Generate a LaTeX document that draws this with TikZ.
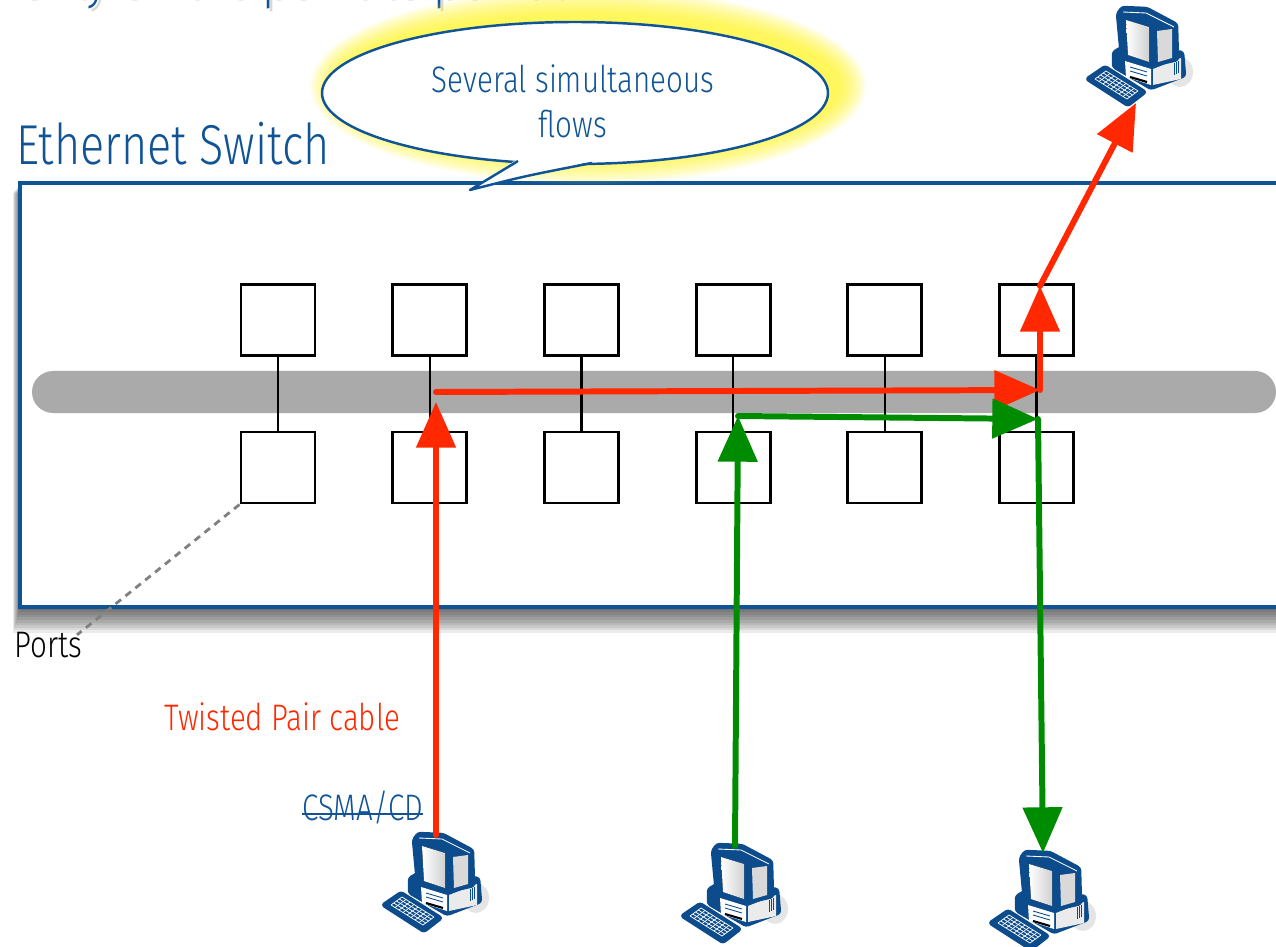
\documentclass[tikz,border=0pt]{standalone}
\usepackage{fontspec}
\setmainfont{Fira Sans Light}[FakeStretch=0.8]
\usetikzlibrary{arrows.meta}

\definecolor{ethblue}{RGB}{16,84,150}
\definecolor{pcblue}{RGB}{12,76,140}
\definecolor{flowred}{RGB}{255,40,0}
\definecolor{flowgreen}{RGB}{0,140,0}
\definecolor{busgray}{RGB}{170,170,170}

\tikzset{
  titlefont/.style={font=\fontsize{32}{38}\selectfont, inner sep=0pt},
  lbl/.style={font=\fontsize{21}{25.5}\selectfont, inner sep=0pt},
  portbox/.style={draw, fill=white, line width=1.7pt, minimum width=1.48cm,
    minimum height=1.42cm, inner sep=0pt},
  link/.style={line width=1.3pt},
  flow/.style={line width=3.4pt, line cap=round, -{Triangle[length=26pt,width=22pt]}},
  redflow/.style={flow, flowred},
  greenflow/.style={flow, flowgreen},
  portsline/.style={black!50, line width=1.6pt, dash pattern=on 4pt off 3.2pt},
  pcbody/.style={draw=pcblue, fill=pcblue, line width=1.4pt, line join=round,
    rounded corners=1.5pt},
  % desktop computer, origin at the top left of the icon
  pc/.pic={
    \fill[black!10] (110,72) ellipse (13 and 15);
    % system unit
    \filldraw[pcbody] (43,52) -- (55,45) -- (113,52) -- (115,76) -- (81,89) -- (43,67) -- cycle;
    \fill[white] (55,61) -- (81,69) -- (81,85) -- (56,77) -- cycle;
    \fill[black!8] (83,69) -- (111,58) -- (111,79) -- (83,85) -- cycle;
    \foreach \k in {0,4}
      \draw[pcblue, line width=0.5pt] (60,{67+\k}) -- (77,{72+\k});
    \draw[black, line width=1.2pt] (60,77) -- (77,82);
    \foreach \k in {0,2,4}
      \draw[pcblue, line width=0.4pt] ({104+\k},{63-\k*0.4}) -- ({104+\k},{75-\k*0.4});
    % monitor
    \filldraw[pcbody] (47,14) -- (52,7) -- (77,8) -- (107,24) -- (108,60) -- (82,66) -- (51,57) -- cycle;
    \fill[left color=white, right color=black!18] (56,20) -- (79,27) -- (79,62) -- (58,55) -- cycle;
    \fill[black!15] (87,31) -- (102,29) -- (102,58) -- (88,62) -- cycle;
    \draw[white, line width=0.5pt] (53,12) -- (76,13) -- (104,27);
    % keyboard
    \filldraw[pcbody] (16,79) -- (35,66) -- (76,92) -- (58,106) -- cycle;
    \foreach \t in {0,0.25,0.5,0.75,1}
      \draw[white, line width=0.4pt] ({25+11*\t},{79-8*\t}) -- ({57+11*\t},{99-8*\t});
    \foreach \t in {0,0.125,0.25,0.375,0.5,0.625,0.75,0.875,1}
      \draw[white, line width=0.4pt] ({25+32*\t},{79+20*\t}) -- ({36+32*\t},{71+20*\t});
    \coordinate (-top) at (70,9);
    \coordinate (-key) at (66,103);
  }
}

\begin{document}
\begin{tikzpicture}[x=0.2mm, y=-0.2mm]
  \useasboundingbox (0,0) rectangle (1276,947);
  \clip (0,0) rectangle (1276,947);

  % heading line running off the top
  \node[titlefont, anchor=base west, black!60, opacity=0.25] (topshade) at (19,1) {Only on the point to point link};
  \node[titlefont, anchor=base west, ethblue] (topline) at (16,-2) {Only on the point to point link};
  \node[titlefont, anchor=base west, ethblue] (title) at (16,165) {Ethernet Switch};

  % switch housing with its shadow
  \foreach \s in {1,...,10}
    \fill[black, opacity=0.08] ({20-0.7*\s},{183+\s}) rectangle (1300,{607+2.6*\s});
  \draw[ethblue, line width=2.2pt, fill=white] (20,183) rectangle (1300,607);

  % backplane
  \fill[busgray, rounded corners=4.2mm] (32,371) rectangle (1276,413);

  % ports
  \foreach \i in {1,...,6} {
    \node[portbox] (t\i) at ({278+151.7*(\i-1)},320) {};
    \node[portbox] (b\i) at ({278+151.7*(\i-1)},467.5) {};
    \draw[link] (t\i.south) -- (b\i.north);
  }

  \node[lbl, anchor=base west] (ports) at (14,657) {Ports};
  \draw[portsline] (b1.south west) -- ([xshift=-3pt,yshift=-2pt]ports.north east);

  \node[lbl, anchor=base west, flowred] (cable) at (164,730) {Twisted Pair cable};
  \node[lbl, anchor=base west, ethblue] (csma) at (302,820) {CSMA/CD};
  \draw[ethblue, line width=1.2pt] ([yshift=3.4pt]csma.base west) -- ([yshift=3.4pt]csma.base east);

  % callout with yellow glow
  \foreach \g in {1,...,14}
    \fill[yellow, opacity=0.07] (588,86) ellipse ({250+2*\g} and {70+2*\g});
  \filldraw[ethblue, line width=1.4pt, fill=white] (575,93) ellipse (253 and 71);
  \fill[white] (516,150) -- (516,160) -- (470,190) -- (593,161) -- (593,150) -- cycle;
  \draw[ethblue, line width=1.4pt, line join=round] (518,161) -- (470,190) .. controls (525,176) .. (592,163);
  \node[lbl, ethblue, align=center] (flowsnote) at (573,101) {Several simultaneous\\flows};

  % hosts
  \pic (pcA) at (366,826) {pc};
  \pic (pcB) at (665,837) {pc};
  \pic (pcC) at (973,844) {pc};
  \pic (pcD) at (1070,0) {pc};

  % turning points on the backplane
  \coordinate (rA) at (436,392);
  \coordinate (rB) at (1040,390);
  \coordinate (rC) at (1040,286);
  \coordinate (gA) at (738,416);
  \coordinate (gB) at (1038,419);

  % red flow
  \draw[redflow, shorten >=2mm] (pcA-top) -- (rA);
  \draw[redflow] (rA) -- (rB);
  \draw[redflow] (rB) -- (rC);
  \draw[redflow] (rC) -- (pcD-key);

  % green flow
  \draw[greenflow] (pcB-top) -- (gA);
  \draw[greenflow] (gA) -- (gB);
  \draw[greenflow] (gB) -- (pcC-top);
\end{tikzpicture}
\end{document}
